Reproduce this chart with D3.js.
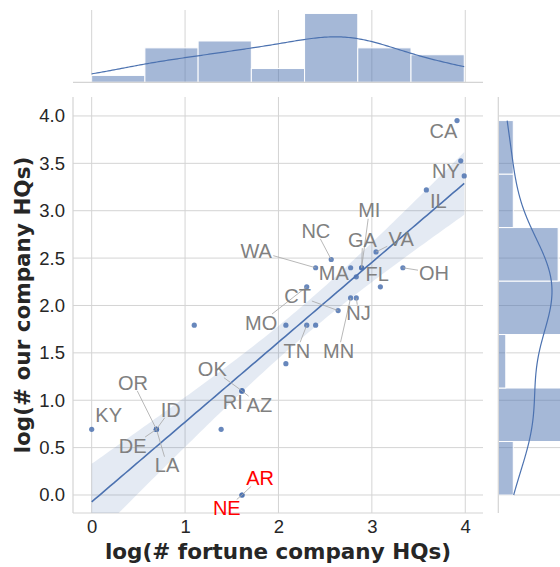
<!DOCTYPE html>
<html>
<head>
<meta charset="utf-8">
<script src="https://cdn.jsdelivr.net/npm/d3@7"></script>
<style>
  body { margin: 0; background: #ffffff; }
  svg { display: block; }
</style>
</head>
<body>
<svg id="chart" width="560" height="567"></svg>
<script>
// Headquarters counts per state: Fortune companies vs. our companies
const fortuneHQs = [1, 2, 2, 2, 2, 3, 4, 5, 5, 5, 5, 5, 8, 8, 10, 10, 11, 11, 13, 14, 16, 16, 17, 17, 18, 18, 21, 22, 28, 36, 50, 52, 54];
const ourHQs     = [2, 2, 2, 2, 2, 6, 2, 3, 3, 3, 1, 1, 6, 4, 9, 6, 11, 6, 12, 7, 11, 8, 10, 8, 11, 11, 13, 9, 11, 25, 52, 34, 29];
const stateLabels = ["KY", "ID", "DE", "OR", "LA", "", "", "OK", "RI", "AZ", "AR", "NE", "", "", "MO", "TN", "WA", "", "NC", "CT", "MA", "MN", "FL", "NJ", "GA", "MI", "VA", "", "OH", "IL", "CA", "NY", ""];
const redStates = ["AR", "NE"];

const xTicks = [0, 1, 2, 3, 4];
const yTicks = [0, 0.5, 1.0, 1.5, 2.0, 2.5, 3.0, 3.5, 4.0];
const xTitle = "log(# fortune company HQs)";
const yTitle = "log(# our company HQs)";

// Label placement: offset of the label centre from its point (px), and whether a leader line is drawn
const labelLayout = {
  KY: [17, -14.5, false], ID: [14.4, -20, true], DE: [-23.7, 16.2, true], OR: [-23.4, -47, true],
  LA: [10.6, 35.9, true], OK: [-29.7, -21.7, true], RI: [-9.2, 10.8, false], AZ: [17.4, 13.8, true],
  AR: [18.1, -17.2, true], NE: [-15.2, 13, true], MO: [-45.5, 35.7, true], TN: [-9.9, 25.6, true],
  WA: [-59.4, -17, true], NC: [-15.4, -29.2, true], CT: [-40.6, -14.8, true], MA: [-16.9, 5.5, false],
  MN: [-12, 52.8, true], FL: [21, -3.5, false], NJ: [2.2, 15.3, true], GA: [0.9, -28.1, true],
  MI: [7.7, -57.5, true], VA: [25.2, -12.7, true], OH: [31.1, 5, true], IL: [11.9, 10.8, false],
  CA: [-13.7, 10.2, false], NY: [-14.7, 10.1, false]
};

const BLUE = "#4c72b0";
const GRID = "#d4d4d4";
const TEXT = "#262626";
const NBINS = 7;

const data = fortuneHQs.map((f, i) => ({
  x: Math.log(f), y: Math.log(ourHQs[i]), label: stateLabels[i]
}));

const svg = d3.select("#chart");

// Panel geometry
const main = { left: 73, right: 483, top: 97, bottom: 513 };
const topM = { top: 10, bottom: 82.3 };
const rightM = { left: 498.3, right: 569 };

const x = d3.scaleLinear().domain([-0.2, 4.19]).range([main.left, main.right]);
const y = d3.scaleLinear().domain([-0.19, 4.2]).range([main.bottom, main.top]);

// ---------- main panel grid ----------
const gMain = svg.append("g");
gMain.selectAll("line.vg").data(xTicks).join("line")
  .attr("x1", d => x(d)).attr("x2", d => x(d))
  .attr("y1", main.top).attr("y2", main.bottom)
  .attr("stroke", GRID).attr("stroke-width", 1);
gMain.selectAll("line.hg").data(yTicks).join("line")
  .attr("x1", main.left).attr("x2", main.right)
  .attr("y1", d => y(d)).attr("y2", d => y(d))
  .attr("stroke", GRID).attr("stroke-width", 1);

// axes (tick labels only, spines on left and bottom)
const xAxis = d3.axisBottom(x).tickValues(xTicks).tickFormat(d3.format("d")).tickSize(0).tickPadding(7);
const yAxis = d3.axisLeft(y).tickValues(yTicks).tickFormat(d3.format(".1f")).tickSize(0).tickPadding(8);
const gx = svg.append("g").attr("transform", `translate(0,${main.bottom})`).call(xAxis);
const gy = svg.append("g").attr("transform", `translate(${main.left},0)`).call(yAxis);
[gx, gy].forEach(g => {
  g.select(".domain").attr("stroke", GRID).attr("stroke-width", 1.2);
  g.selectAll("text").attr("fill", TEXT).attr("font-family", "Liberation Sans, Arial, sans-serif").attr("font-size", 18.5);
});
gx.select(".domain").attr("d", `M${main.left},0H${main.right}`);
gy.select(".domain").attr("d", `M0,${main.top}V${main.bottom}`);

// ---------- regression with 95% confidence band ----------
const n = data.length;
const mx = d3.mean(data, d => d.x), my = d3.mean(data, d => d.y);
const sxx = d3.sum(data, d => (d.x - mx) ** 2);
const sxy = d3.sum(data, d => (d.x - mx) * (d.y - my));
const slope = sxy / sxx, intercept = my - slope * mx;
const s = Math.sqrt(d3.sum(data, d => (d.y - (intercept + slope * d.x)) ** 2) / (n - 2));
const tCrit = 2.04;
const [xmin, xmax] = d3.extent(data, d => d.x);
const grid = d3.range(0, 101).map(i => xmin + (xmax - xmin) * i / 100);
const band = grid.map(gxv => {
  const yh = intercept + slope * gxv;
  const se = s * Math.sqrt(1 / n + (gxv - mx) ** 2 / sxx);
  return { x: gxv, y: yh, lo: yh - tCrit * se, hi: yh + tCrit * se };
});

svg.append("clipPath").attr("id", "mainclip").append("rect")
  .attr("x", main.left).attr("y", main.top)
  .attr("width", main.right - main.left).attr("height", main.bottom - main.top);

const gPlot = svg.append("g").attr("clip-path", "url(#mainclip)");
gPlot.append("path").datum(band)
  .attr("d", d3.area().x(d => x(d.x)).y0(d => y(d.lo)).y1(d => y(d.hi)))
  .attr("fill", BLUE).attr("fill-opacity", 0.15);
gPlot.append("path").datum(band)
  .attr("d", d3.line().x(d => x(d.x)).y(d => y(d.y)))
  .attr("fill", "none").attr("stroke", BLUE).attr("stroke-width", 1.6);

gPlot.selectAll("circle").data(data).join("circle")
  .attr("cx", d => x(d.x)).attr("cy", d => y(d.y)).attr("r", 2.6)
  .attr("fill", BLUE).attr("fill-opacity", 0.85);

// ---------- state labels with leader lines ----------
const gLab = svg.append("g");
const gLead = gLab.append("g");
data.filter(d => d.label).forEach(d => {
  const [dx, dy, leader] = labelLayout[d.label];
  const px = x(d.x), py = y(d.y);
  const cx = px + dx, cy = py + dy;
  const t = gLab.append("text")
    .attr("x", cx).attr("y", cy + 7.2)
    .attr("text-anchor", "middle")
    .attr("font-family", "Liberation Sans, Arial, sans-serif")
    .attr("font-size", 20)
    .attr("fill", redStates.includes(d.label) ? "#ff0000" : "#808080")
    .text(d.label);
  if (leader) {
    const bb = t.node().getBBox();
    const hw = bb.width / 2 + 1, hh = 7.5 + 1;
    const vx = px - cx, vy = py - cy;
    const k = Math.min(vx !== 0 ? hw / Math.abs(vx) : Infinity, vy !== 0 ? hh / Math.abs(vy) : Infinity);
    if (k < 1) {
      gLead.append("line")
        .attr("x1", cx + vx * k).attr("y1", cy + vy * k)
        .attr("x2", px).attr("y2", py)
        .attr("stroke", "#a6a6a6").attr("stroke-width", 0.8);
    }
  }
});

// ---------- axis titles ----------
svg.append("text")
  .attr("x", (main.left + main.right) / 2).attr("y", 558.5)
  .attr("text-anchor", "middle")
  .attr("font-family", "DejaVu Sans, sans-serif").attr("font-weight", "bold")
  .attr("font-size", 21.5).attr("fill", TEXT)
  .text(xTitle);
svg.append("text")
  .attr("transform", `translate(30,${(main.top + main.bottom) / 2}) rotate(-90)`)
  .attr("text-anchor", "middle")
  .attr("font-family", "DejaVu Sans, sans-serif").attr("font-weight", "bold")
  .attr("font-size", 21.5).attr("fill", TEXT)
  .text(yTitle);

// ---------- kernel density (Scott bandwidth), scaled to counts ----------
function kdeCurve(values, binWidth) {
  const sd = d3.deviation(values);
  const bw = sd * Math.pow(values.length, -1 / 5);
  const [lo, hi] = d3.extent(values);
  return d3.range(0, 201).map(i => {
    const v = lo + (hi - lo) * i / 200;
    const dens = d3.sum(values, u => Math.exp(-0.5 * ((v - u) / bw) ** 2)) / (values.length * bw * Math.sqrt(2 * Math.PI));
    return { v, c: dens * values.length * binWidth };
  });
}

function equalBins(values) {
  const [lo, hi] = d3.extent(values);
  const w = (hi - lo) / NBINS;
  const thresholds = d3.range(1, NBINS).map(i => lo + i * w);
  const bins = d3.bin().domain([lo, hi]).thresholds(thresholds)(values);
  return { bins, w };
}

// ---------- top marginal: fortune HQs ----------
const xVals = data.map(d => d.x);
const hx = equalBins(xVals);
const yTop = d3.scaleLinear().domain([0, 10.5]).range([topM.bottom, topM.top]);
const gTop = svg.append("g");
gTop.selectAll("line.g").data(xTicks).join("line")
  .attr("x1", d => x(d)).attr("x2", d => x(d))
  .attr("y1", topM.top).attr("y2", topM.bottom)
  .attr("stroke", GRID);
gTop.selectAll("rect").data(hx.bins).join("rect")
  .attr("x", d => x(d.x0)).attr("width", d => x(d.x1) - x(d.x0))
  .attr("y", d => yTop(d.length)).attr("height", d => yTop(0) - yTop(d.length))
  .attr("fill", BLUE).attr("fill-opacity", 0.5)
  .attr("stroke", "#ffffff").attr("stroke-width", 1);
gTop.append("path").datum(kdeCurve(xVals, hx.w))
  .attr("d", d3.line().x(d => x(d.v)).y(d => yTop(d.c)))
  .attr("fill", "none").attr("stroke", BLUE).attr("stroke-width", 1.2);
gTop.append("line")
  .attr("x1", main.left).attr("x2", main.right)
  .attr("y1", topM.bottom).attr("y2", topM.bottom)
  .attr("stroke", GRID).attr("stroke-width", 1.2);

// ---------- right marginal: our HQs ----------
const yVals = data.map(d => d.y);
const hy = equalBins(yVals);
const xRight = d3.scaleLinear().domain([0, 9.45]).range([rightM.left, rightM.right]);
const gRight = svg.append("g");
gRight.selectAll("line.g").data(yTicks).join("line")
  .attr("x1", rightM.left).attr("x2", rightM.right)
  .attr("y1", d => y(d)).attr("y2", d => y(d))
  .attr("stroke", GRID);
gRight.selectAll("rect").data(hy.bins).join("rect")
  .attr("y", d => y(d.x1)).attr("height", d => y(d.x0) - y(d.x1))
  .attr("x", xRight(0)).attr("width", d => xRight(d.length) - xRight(0))
  .attr("fill", BLUE).attr("fill-opacity", 0.5)
  .attr("stroke", "#ffffff").attr("stroke-width", 1);
gRight.append("path").datum(kdeCurve(yVals, hy.w))
  .attr("d", d3.line().x(d => xRight(d.c)).y(d => y(d.v)))
  .attr("fill", "none").attr("stroke", BLUE).attr("stroke-width", 1.2);
gRight.append("line")
  .attr("x1", rightM.left).attr("x2", rightM.left)
  .attr("y1", main.top).attr("y2", main.bottom)
  .attr("stroke", GRID).attr("stroke-width", 1.2);
</script>
</body>
</html>
